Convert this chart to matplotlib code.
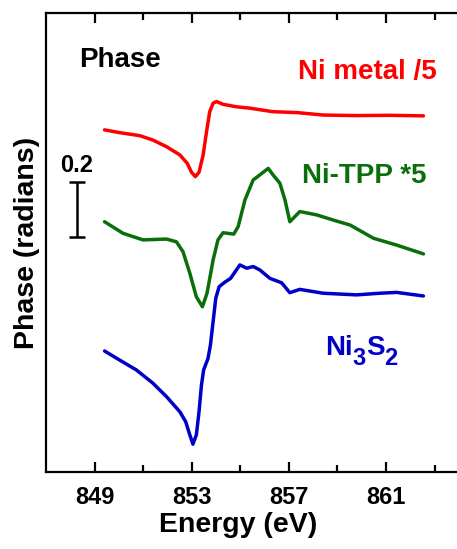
import numpy as np
import matplotlib
matplotlib.use('Agg')
import matplotlib.pyplot as plt

plt.rcParams['font.family'] = ['Liberation Sans', 'DejaVu Sans']
plt.rcParams['font.weight'] = 'bold'

# phase traces (energy in eV, phase in radians, offset)
e_metal = [849.41, 850.03, 850.86, 851.40, 851.96, 852.51, 852.81, 852.99, 853.15, 853.30,
           853.47, 853.61, 853.74, 853.88, 854.02, 854.29, 854.84, 855.39, 856.35, 857.32,
           858.41, 859.79, 861.16, 862.54]
ph_metal = [1.244, 1.234, 1.223, 1.207, 1.183, 1.153, 1.123, 1.090, 1.074, 1.090,
            1.153, 1.238, 1.310, 1.341, 1.347, 1.337, 1.328, 1.323, 1.310, 1.307,
            1.298, 1.296, 1.297, 1.295]

e_tpp = [849.41, 850.17, 850.99, 851.96, 852.37, 852.64, 852.92, 853.19, 853.44, 853.63,
         853.88, 854.08, 854.29, 854.73, 854.91, 855.19, 855.53, 855.80, 856.15, 856.35,
         856.63, 856.84, 857.04, 857.45, 858.14, 858.83, 859.52, 860.48, 861.44, 862.54]
ph_tpp = [0.910, 0.868, 0.844, 0.847, 0.837, 0.801, 0.723, 0.637, 0.601, 0.650,
          0.771, 0.844, 0.870, 0.865, 0.892, 0.989, 1.062, 1.080, 1.104, 1.080,
          1.050, 0.989, 0.910, 0.947, 0.935, 0.916, 0.898, 0.850, 0.825, 0.793]

e_ni3s2 = [849.41, 850.03, 850.72, 851.40, 851.96, 852.51, 852.75, 852.92, 853.05, 853.19,
           853.30, 853.40, 853.49, 853.67, 853.77, 853.88, 853.99, 854.13, 854.36, 854.60,
           854.84, 854.98, 855.26, 855.53, 855.80, 856.22, 856.70, 857.04, 857.45, 858.41,
           859.79, 860.75, 861.44, 862.54]
ph_ni3s2 = [0.440, 0.407, 0.371, 0.323, 0.274, 0.219, 0.183, 0.135, 0.101, 0.135,
            0.219, 0.316, 0.371, 0.413, 0.462, 0.547, 0.632, 0.674, 0.690, 0.704,
            0.735, 0.753, 0.741, 0.747, 0.735, 0.704, 0.688, 0.652, 0.664, 0.650,
            0.644, 0.650, 0.653, 0.640]

bar_e = 848.26
bar_lo, bar_len = 0.855, 0.2

fig = plt.figure(figsize=(4.57, 5.49), dpi=100)
ax = fig.add_axes([0.1007, 0.1403, 0.93, 0.836])

line_kw = dict(lw=2.5, solid_joinstyle='round', solid_capstyle='round')
ax.plot(e_metal, ph_metal, color='#ff0000', **line_kw)
ax.plot(e_tpp, ph_tpp, color='#0a6e0a', **line_kw)
ax.plot(e_ni3s2, ph_ni3s2, color='#0000c8', **line_kw)

# 0.2 rad scale bar
ax.errorbar([bar_e], [bar_lo + bar_len / 2], yerr=[bar_len / 2], color='black',
            lw=1.8, capsize=6, capthick=1.8)
ax.text(bar_e - 0.02, bar_lo + bar_len + 0.06, '0.2', fontsize=17, fontweight='bold',
        ha='center', va='center')

ax.text(848.38, 1.498, 'Phase', fontsize=20, fontweight='bold', ha='left', va='center')
ax.text(857.37, 1.455, 'Ni metal /5', fontsize=20, fontweight='bold', color='#ff0000',
        ha='left', va='center')
ax.text(857.54, 1.076, 'Ni-TPP *5', fontsize=20, fontweight='bold', color='#0a6e0a',
        ha='left', va='center')

# Ni3S2 label with big, low subscripts
blue = '#0000c8'
for s, dx, dy, fs in [('Ni', 0, 0, 20), ('3', 20, -7, 17), ('S', 29.5, 0, 20), ('2', 43, -7, 17)]:
    ax.annotate(s, xy=(858.48, 0.425), xytext=(dx, dy), textcoords='offset points',
                fontsize=fs, fontweight='bold', color=blue, ha='left', va='baseline')

ax.set_xlim(847, 864.5)
ax.set_ylim(0, 1.669)
ax.set_xticks([849, 853, 857, 861])
ax.set_xticks([851, 855, 859, 863], minor=True)
ax.set_yticks([])
ax.tick_params(axis='x', which='both', direction='in', top=True, width=1.6,
               labelsize=17, pad=10)
ax.tick_params(axis='x', which='major', length=7.5)
ax.tick_params(axis='x', which='minor', length=5)
for lab in ax.get_xticklabels():
    lab.set_fontweight('bold')
for sp in ax.spines.values():
    sp.set_linewidth(1.6)

ax.set_xlabel('Energy (eV)', fontsize=20.5, fontweight='bold', labelpad=2)
ax.xaxis.label.set_x(0.452)
ax.set_ylabel('Phase (radians)', fontsize=20.5, fontweight='bold', labelpad=4)

fig.savefig('out.png', dpi=100)
